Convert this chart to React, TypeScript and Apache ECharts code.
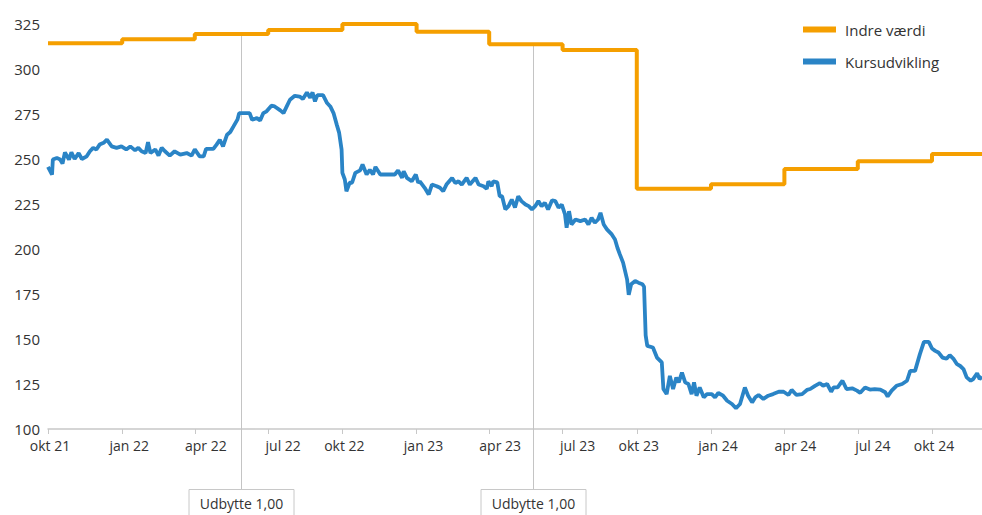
import React, { useEffect, useRef } from "react";
import * as echarts from "echarts";

// ---------- DATA ----------
const seriesNames = ["Indre værdi", "Kursudvikling"];

// Indre værdi (step line), value holds from the date until the next date
const indreDates = [
  "2021-10-01", "2022-01-01", "2022-04-01", "2022-07-01", "2022-10-01", "2023-01-01", "2023-04-01",
  "2023-07-01", "2023-10-01", "2024-01-01", "2024-04-01", "2024-07-01", "2024-10-01", "2024-12-02",
];
const indreValues = [314.3, 316.5, 319.5, 321.7, 325, 320.7, 313.7, 310.6, 233.5, 236, 244.4, 248.7, 252.8, 252.8];

// Kursudvikling: day number counted from startDate, and price
const startDate = "2021-10-01";
const endDate = "2024-12-02";
const kursDays = [
  0, 5, 6, 11, 15, 18, 21, 26, 29, 33, 38, 42, 48, 52, 56, 60, 64, 69, 73, 79, 85, 91, 97, 102, 108, 112, 116, 121, 124,
  127, 133, 137, 141, 145, 151, 157, 164, 172, 178, 182, 188, 193, 196, 205, 209, 213, 217, 222, 226, 230, 235, 237, 250,
  253, 259, 263, 267, 271, 277, 281, 288, 292, 296, 300, 306, 312, 316, 321, 325, 328, 331, 334, 341, 346, 350, 354, 358,
  361, 364, 365, 368, 370, 374, 377, 381, 387, 390, 395, 399, 403, 406, 412, 420, 430, 434, 439, 441, 445, 451, 456, 459,
  461, 467, 472, 476, 482, 486, 490, 494, 501, 505, 509, 513, 519, 523, 530, 534, 540, 544, 546, 550, 552, 557, 560, 563,
  567, 571, 575, 579, 583, 587, 592, 596, 600, 604, 608, 612, 616, 620, 625, 629, 633, 637, 641, 643, 646, 649, 654, 660,
  666, 670, 674, 678, 682, 685, 689, 693, 699, 703, 706, 709, 713, 718, 720, 723, 728, 732, 737, 739, 741, 743, 750, 755,
  761, 763, 767, 771, 775, 779, 782, 786, 790, 794, 798, 801, 804, 808, 813, 817, 823, 827, 831, 837, 842, 848, 853, 858,
  864, 868, 873, 877, 881, 887, 893, 899, 906, 912, 918, 922, 928, 935, 941, 945, 951, 957, 961, 966, 971, 974, 979, 982,
  985, 990, 997, 1003, 1007, 1013, 1019, 1025, 1032, 1038, 1041, 1046, 1052, 1059, 1065, 1069, 1075, 1081, 1086, 1092,
  1096, 1100, 1104, 1109, 1114, 1118, 1123, 1127, 1131, 1135, 1139, 1144, 1147, 1152, 1155, 1158,
];
const kursValues = [
  245.6, 241.3, 249.7, 250.6, 249.7, 247.5, 253.7, 249.7, 253.7, 250, 253.3, 250, 251.5, 254.3, 256.2, 255.3, 258, 259,
  260.7, 257, 256.2, 257, 255.3, 257, 254.8, 256.2, 254.3, 253.3, 259.3, 253.3, 255.3, 251.9, 256.2, 254.3, 251.9, 254.3,
  252.4, 253.3, 251.9, 255.3, 251.5, 251.5, 255.6, 255.6, 258, 260.7, 257, 263.5, 265, 268.1, 272, 275.5, 275.5, 271.8,
  272.7, 271.4, 275.5, 276.5, 279.6, 279.2, 277, 275.5, 279.2, 282.9, 285.1, 284.7, 283.3, 287, 284, 287, 282, 285.5, 285.5,
  281.1, 279.2, 275.5, 269.1, 264.5, 255.2, 242.3, 238.6, 232.1, 236.8, 236.8, 242.3, 243.7, 246.9, 241.4, 244, 241.4,
  245.6, 241.4, 241.4, 241.4, 243.7, 239.5, 243.2, 239.5, 237.6, 241.4, 236.8, 237.6, 234, 230.3, 235.8, 234.9, 234, 232.1,
  235.8, 239.5, 236.7, 237.6, 235.8, 239.5, 235.8, 239.5, 235.8, 234.9, 233.4, 237.6, 234.9, 237.6, 237, 229.3, 229.3, 222,
  223.8, 227.5, 223, 229.3, 226.6, 224.7, 223.8, 222, 223.8, 226.6, 223.8, 225.7, 222, 227.1, 226.6, 223, 224.7, 219.2,
  211.8, 221, 213.6, 216.4, 215.5, 216.4, 213.6, 217.3, 214.6, 216.4, 220.1, 213.6, 210.9, 208.1, 205.3, 200.7, 197, 192.4,
  183, 174.5, 180.4, 182.2, 181.3, 180.4, 179, 152, 146.2, 145.3, 139.7, 137, 122.2, 119.4, 129.5, 122.2, 128.6, 125.9,
  131.4, 125.9, 125, 119.4, 125.9, 118.5, 123.1, 117.6, 119.4, 119.4, 117.6, 120, 118.5, 115.7, 113.9, 111.5, 113.9, 123.1,
  118.5, 114.8, 117.6, 118.9, 116.7, 118.5, 119.4, 120.7, 120.7, 118.9, 121.7, 118.9, 119.4, 121.7, 122.2, 124, 125.5, 124,
  125, 120.7, 123.1, 123.1, 125, 126.8, 122.2, 122.6, 121.3, 120.1, 123.1, 121.9, 122.2, 121.9, 120.4, 118.1, 121.3, 124,
  125, 126.8, 132.3, 132.3, 141.6, 148.4, 148.4, 144.7, 143.4, 142.5, 139.7, 139.1, 141, 138.8, 136, 135, 133.3, 128.7,
  126.8, 127.7, 131, 127.7, 129.2,
];

// Udbytte (dividend) markers
const udbytteDates = ["2022-05-28", "2023-05-25"];
const udbytteLabels = ["Udbytte 1,00", "Udbytte 1,00"];

const monthNames = ["jan", "feb", "mar", "apr", "maj", "jun", "jul", "aug", "sep", "okt", "nov", "dec"];
const yMin = 100;
const yMax = 325;
const yStep = 25;

// ---------- HELPERS ----------
function ts(s: string): number {
  const [y, m, d] = s.split("-").map(Number);
  return new Date(y, m - 1, d).getTime();
}
function dayTs(day: number): number {
  const [y, m, d] = startDate.split("-").map(Number);
  return new Date(y, m - 1, d + day).getTime();
}
function indreAt(t: number): number {
  let v = indreValues[0];
  for (let i = 0; i < indreDates.length; i++) {
    if (ts(indreDates[i]) <= t) v = indreValues[i];
  }
  return v;
}

const FONT = "'Open Sans', 'Noto Sans', sans-serif";
const ORANGE = "#f59f00";
const BLUE = "#2a84c6";
const TEXT = "#333333";

export default function App() {
  const ref = useRef<HTMLDivElement>(null);

  useEffect(() => {
    if (!ref.current) return;
    const chart = echarts.init(ref.current, undefined, { renderer: "svg" });

    const indreData = indreDates.map((d, i) => [ts(d), indreValues[i]]);
    const kursData = kursDays.map((d, i) => [dayTs(d), kursValues[i]]);

    chart.setOption({
      animation: false,
      grid: { left: 48, right: 0, top: 24, bottom: 86, containLabel: false },
      legend: {
        data: seriesNames,
        orient: "vertical",
        left: 798,
        top: 17,
        icon: "rect",
        itemWidth: 33,
        itemHeight: 6,
        itemGap: 17,
        textStyle: { fontSize: 15, color: TEXT, fontFamily: FONT, padding: [0, 0, 0, 4] },
      },
      xAxis: {
        type: "time",
        min: ts(startDate),
        max: ts(endDate),
        minInterval: 89 * 86400000,
        maxInterval: 92 * 86400000,
        splitLine: { show: false },
        axisLine: { show: true, lineStyle: { color: "#c8c8c8", width: 1.5 } },
        axisTick: { show: true, length: 5, lineStyle: { color: "#c8c8c8", width: 1 } },
        axisLabel: {
          margin: 9,
          color: TEXT,
          fontSize: 14,
          fontFamily: FONT,
          hideOverlap: false,
          formatter: (value: number) => {
            const d = new Date(value);
            const m = d.getMonth();
            const cls = m === 0 ? "q1" : m === 3 ? "q2" : m === 6 ? "q3" : "q4";
            return `{${cls}|${monthNames[m]} ${String(d.getFullYear()).slice(2)}}`;
          },
          rich: {
            q1: { fontSize: 14, color: TEXT, fontFamily: FONT, padding: [0, 0, 0, 14] },
            q2: { fontSize: 14, color: TEXT, fontFamily: FONT, padding: [0, 0, 0, 22] },
            q3: { fontSize: 14, color: TEXT, fontFamily: FONT, padding: [0, 0, 0, 30] },
            q4: { fontSize: 14, color: TEXT, fontFamily: FONT, padding: [0, 0, 0, 4] },
          },
        },
      },
      yAxis: {
        type: "value",
        min: yMin,
        max: yMax,
        interval: yStep,
        splitLine: { show: false },
        axisLine: { show: false },
        axisTick: { show: false },
        axisLabel: { color: TEXT, fontSize: 15, fontFamily: FONT, margin: 8 },
      },
      series: [
        {
          name: seriesNames[0],
          type: "line",
          step: "end",
          data: indreData,
          showSymbol: false,
          symbol: "none",
          color: ORANGE,
          lineStyle: { color: ORANGE, width: 4 },
          z: 3,
        },
        {
          name: seriesNames[1],
          type: "line",
          data: kursData,
          showSymbol: false,
          symbol: "none",
          color: BLUE,
          lineStyle: { color: BLUE, width: 3.8 },
          z: 3,
        },
      ],
    });

    const boxTop = 489;
    const boxW = 105;
    const graphics: any[] = [];
    udbytteDates.forEach((d, i) => {
      const t = ts(d);
      const top = chart.convertToPixel({ gridIndex: 0 }, [t, indreAt(t)]) as number[];
      const x = Math.round(top[0]) + 0.5;
      graphics.push({
        type: "line",
        z: 1,
        shape: { x1: x, y1: top[1], x2: x, y2: boxTop },
        style: { stroke: "#c4c4c4", lineWidth: 1 },
      });
      graphics.push({
        type: "rect",
        z: 1,
        shape: { x: x - boxW / 2, y: boxTop + 0.5, width: boxW, height: 40 },
        style: { fill: "#ffffff", stroke: "#c8c8c8", lineWidth: 1 },
      });
      graphics.push({
        type: "text",
        z: 2,
        x: x,
        y: boxTop + 14,
        style: {
          text: udbytteLabels[i],
          fill: TEXT,
          font: `14px ${FONT}`,
          textAlign: "center",
          textVerticalAlign: "middle",
        },
      });
    });
    chart.setOption({ graphic: graphics });

    return () => chart.dispose();
  }, []);

  return (
    <div
      ref={ref}
      style={{ position: "fixed", left: 0, top: 0, width: 982, height: 515, background: "#ffffff" }}
    />
  );
}
